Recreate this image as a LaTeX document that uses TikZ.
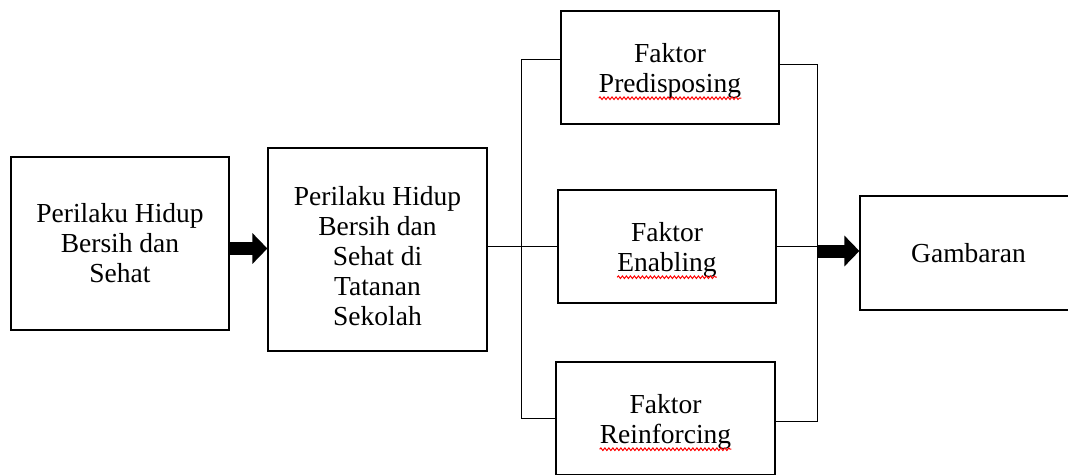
\documentclass[tikz,border=0pt]{standalone}
\usepackage{fontspec}
\setmainfont{Liberation Serif}
\usetikzlibrary{arrows.meta, decorations.pathmorphing}

\tikzset{
  box/.style={draw, line width=1.2pt, minimum width=218pt, minimum height=113pt, inner sep=0pt},
  txt/.style={align=center, inner sep=0pt, font=\fontsize{27.5}{30}\selectfont},
  link/.style={line width=1pt},
  fatarrow/.style={line width=13pt, line cap=butt, -{Triangle[length=15pt, width=30pt]}},
  spell/.style={red, line width=1pt, decorate, decoration={snake, segment length=4pt, amplitude=1.3pt}}
}

\begin{document}
\begin{tikzpicture}[x=1pt, y=-1pt]
  % Fix the page size
  \useasboundingbox (0,0) rectangle (1068,474);
  \clip (0,0) rectangle (1068,474);

  % Draw the boxes
  \node[box, minimum height=173pt] (hidup) at (120,243.5) {};
  \node[box, minimum width=219pt, minimum height=203pt] (sekolah) at (377.5,249.5) {};
  \node[box] (pred) at (670,67.5) {};
  \node[box] (enab) at (667,246.5) {};
  \node[box, minimum width=219pt] (reinf) at (665.5,418.5) {};
  \node[box, minimum width=217pt, minimum height=114pt] (gamb) at (968.5,253) {};

  % Label the boxes
  \node[txt] (hiduptxt) at (hidup.center) {Perilaku Hidup\\Bersih dan\\Sehat};
  \node[txt] (sekolahtxt) at ([yshift=-7pt]sekolah.center) {Perilaku Hidup\\Bersih dan\\Sehat di\\Tatanan\\Sekolah};
  \node[txt] (predtxt) at ([yshift=-3pt]pred.center) {Faktor\\Predisposing};
  \node[txt] (enabtxt) at ([yshift=-3pt]enab.center) {Faktor\\Enabling};
  \node[txt] (reinftxt) at ([yshift=-3pt]reinf.center) {Faktor\\Reinforcing};
  \node[txt] (gambtxt) at (gamb.center) {Gambaran};

  % Spell check marks
  \draw[spell] (predtxt.south west) -- (predtxt.south east);
  \draw[spell] (enabtxt.south west) -- (enabtxt.south east);
  \draw[spell] (reinftxt.south west) -- (reinftxt.south east);

  % Define the ends of the two bars
  \coordinate (lt) at (521,59);
  \coordinate (lb) at (521,418);
  \coordinate (rt) at (817,64);
  \coordinate (rb) at (817,421);

  % Draw the left bar
  \draw[link] (lt -| pred.west) -- (lt) -- (lb) -- (lb -| reinf.west);
  \draw[link] (enab.west -| sekolah.east) -- (enab.west);

  % Draw the right bar
  \draw[link] (rt -| pred.east) -- (rt) -- (rb) -- (rb -| reinf.east);
  \draw[link] (enab.east) -- (enab.east -| rt);

  % Draw the thick arrows
  \draw[fatarrow] ([yshift=-5pt]hidup.east) -- ([yshift=-5pt]hidup.east -| sekolah.west);
  \draw[fatarrow] ([yshift=2pt]gamb.west -| rt) -- ([yshift=2pt]gamb.west);
\end{tikzpicture}
\end{document}
